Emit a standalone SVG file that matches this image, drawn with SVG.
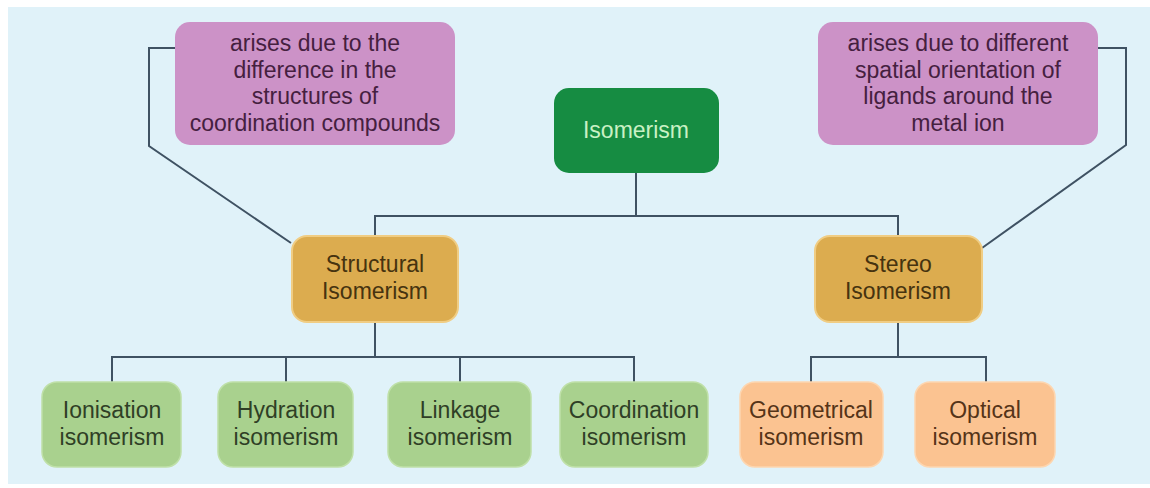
<svg xmlns="http://www.w3.org/2000/svg" width="1150" height="488" viewBox="0 0 1150 488">
<style>
text{font-family:"Liberation Sans",Arial,sans-serif;font-size:23px;text-anchor:middle}
.note rect{fill:#cc92c7}
.note text{fill:#45203f}
.root rect{fill:#168c42}
.root text{fill:#c9f1c4}
.mid rect{fill:#dcac4f;stroke:#f0cd84;stroke-width:2}
.mid text{fill:#46330f}
.leaf rect{fill:#a9d18e;stroke:#bfe0a8;stroke-width:1.5}
.leaf text{fill:#2f3f26}
.st rect{fill:#fbc391;stroke:#fdd6b0;stroke-width:1.5}
.st text{fill:#553418}
.conn path{fill:none;stroke:#3f5263;stroke-width:2}
</style>
<rect x="0" y="0" width="1150" height="488" fill="#ffffff"/>
<rect x="8" y="7" width="1142" height="477" fill="#e0f2f9"/>
<g class="conn">
<path d="M175 48 H149 V146 L291 243"/>
<path d="M1098 48 H1126 V145 L982 248"/>
<path d="M636 173 V216"/>
<path d="M375 235 V216 H898 V236"/>
<path d="M375 322 V357"/>
<path d="M112 382 V357 H634 V382"/>
<path d="M286 357 V382"/>
<path d="M460 357 V382"/>
<path d="M898 322 V357"/>
<path d="M811 382 V357 H986 V382"/>
</g>
<g id="note-structural" class="note">
<rect x="175" y="22" width="280" height="123" rx="15"/>
<text x="315" y="51">arises due to the</text>
<text x="315" y="78">difference in the</text>
<text x="315" y="104">structures of</text>
<text x="315" y="131">coordination compounds</text>
</g>
<g id="note-stereo" class="note">
<rect x="818" y="22" width="280" height="123" rx="15"/>
<text x="958" y="51">arises due to different</text>
<text x="958" y="78">spatial orientation of</text>
<text x="958" y="104">ligands around the</text>
<text x="958" y="131">metal ion</text>
</g>
<g id="isomerism" class="root">
<rect x="554" y="88" width="165" height="85" rx="15"/>
<text x="636" y="138">Isomerism</text>
</g>
<g id="structural" class="mid">
<rect x="292" y="236" width="166" height="86" rx="15"/>
<text x="375" y="272">Structural</text>
<text x="375" y="299">Isomerism</text>
</g>
<g id="stereo" class="mid">
<rect x="815" y="236" width="167" height="86" rx="15"/>
<text x="898" y="272">Stereo</text>
<text x="898" y="299">Isomerism</text>
</g>
<g id="ionisation" class="leaf">
<rect x="42" y="382" width="139" height="85" rx="15"/>
<text x="112" y="418">Ionisation</text>
<text x="112" y="445">isomerism</text>
</g>
<g id="hydration" class="leaf">
<rect x="218" y="382" width="135" height="85" rx="15"/>
<text x="286" y="418">Hydration</text>
<text x="286" y="445">isomerism</text>
</g>
<g id="linkage" class="leaf">
<rect x="388" y="382" width="143" height="85" rx="15"/>
<text x="460" y="418">Linkage</text>
<text x="460" y="445">isomerism</text>
</g>
<g id="coordination" class="leaf">
<rect x="560" y="382" width="148" height="85" rx="15"/>
<text x="634" y="418">Coordination</text>
<text x="634" y="445">isomerism</text>
</g>
<g id="geometrical" class="st">
<rect x="740" y="382" width="143" height="85" rx="15"/>
<text x="811" y="418">Geometrical</text>
<text x="811" y="445">isomerism</text>
</g>
<g id="optical" class="st">
<rect x="915" y="382" width="140" height="85" rx="15"/>
<text x="985" y="418">Optical</text>
<text x="985" y="445">isomerism</text>
</g>
</svg>
